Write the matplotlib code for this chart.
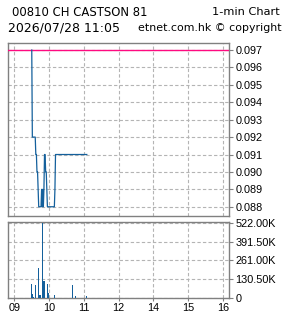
import numpy as np
import matplotlib
matplotlib.use("Agg")
import matplotlib.pyplot as plt
from matplotlib.ticker import FixedLocator, FuncFormatter

# trading minutes since 09:00 (lunch break removed), last price
price_min = [30, 31, 36, 37, 38, 39, 40, 41, 42, 46, 47, 48, 49, 50, 51,
             52, 53, 54, 55, 56, 57, 69, 70, 71, 125]
price_val = [0.097, 0.092, 0.092, 0.091, 0.091, 0.090, 0.090, 0.089, 0.088,
             0.088, 0.089, 0.088, 0.089, 0.088, 0.089, 0.091, 0.091, 0.090,
             0.090, 0.089, 0.088, 0.088, 0.089, 0.091, 0.091]
prev_close = 0.097

# per-minute volume
vol_min = [30, 31, 32, 33, 37, 41, 42, 43, 44, 45, 46, 48, 49, 50, 51, 52,
           57, 58, 59, 70, 96, 100, 105, 124]
vol_val = [98000, 26000, 12000, 6000, 90000, 205000, 16000, 17000, 15000,
           18000, 20000, 67000, 522000, 119000, 110000, 119000, 98000,
           55000, 30000, 16000, 10000, 90000, 15000, 10000]

hour_ticks = [0, 60, 120, 180, 240, 300, 360]
hour_labels = ["09", "10", "11", "12", "14", "15", "16"]
price_ticks = [0.088, 0.089, 0.090, 0.091, 0.092, 0.093, 0.094, 0.095, 0.096, 0.097]
vol_ticks = [0, 130500, 261000, 391500, 522000]

blue = "#14609c"
grid_kw = dict(color="#b4b4b4", linestyle=(0, (3, 2)), linewidth=0.8)
spine_col = "#808080"

fig = plt.figure(figsize=(2.85, 3.18), dpi=100)
ax = fig.add_axes([0.0281, 0.3208, 0.7765, 0.5449])
axv = fig.add_axes([0.0281, 0.0638, 0.7765, 0.2390])

for a in (ax, axv):
    a.set_xlim(-11, 371)
    a.xaxis.set_major_locator(FixedLocator(hour_ticks))
    a.grid(True, **grid_kw)
    a.set_axisbelow(True)
    a.yaxis.tick_right()
    for s in a.spines.values():
        s.set_color(spine_col)
        s.set_linewidth(1.0)
    a.tick_params(axis="both", colors=spine_col, length=3, width=0.8,
                  labelsize=7.8, labelcolor="black", pad=1.5)

# price panel
ax.axhline(prev_close, color="#ff0a80", linewidth=1.0, zorder=3)
ax.plot(price_min, price_val, color=blue, linewidth=0.9, zorder=4)
ax.set_ylim(0.08747, 0.09742)
ax.yaxis.set_major_locator(FixedLocator(price_ticks))
ax.yaxis.set_major_formatter(FuncFormatter(lambda v, p: "%.3f" % v))
ax.tick_params(axis="x", length=0, labelbottom=False)

# volume panel
axv.bar(vol_min, vol_val, width=1.6, color=blue, linewidth=0, zorder=3)
axv.set_ylim(0, 533000)
axv.yaxis.set_major_locator(FixedLocator(vol_ticks))
axv.yaxis.set_major_formatter(
    FuncFormatter(lambda v, p: "0" if v == 0 else "%.2fK" % (v / 1000)))
axv.set_xticklabels(hour_labels)
axv.tick_params(axis="x", length=2)

for a in (ax, axv):
    for lab in a.get_yticklabels() + a.get_xticklabels():
        lab.set_family("Liberation Sans")
        lab.set_fontsize(7.8)

# header
fig.text(11.7 / 285, 1 - 12 / 318, "00810 CH CASTSON 81", ha="left", va="center",
         fontsize=8.4, family="DejaVu Sans")
fig.text(280 / 285, 1 - 12 / 318, "1-min Chart", ha="right", va="center",
         fontsize=8.2, family="DejaVu Sans")
fig.text(8.3 / 285, 1 - 28 / 318, "2026/07/28 11:05", ha="left", va="center",
         fontsize=9.0, family="DejaVu Sans")
fig.text(281.5 / 285, 1 - 28 / 318, "etnet.com.hk \u00a9 copyright", ha="right",
         va="center", fontsize=7.9, family="DejaVu Sans")

fig.savefig("out.png", dpi=100)
